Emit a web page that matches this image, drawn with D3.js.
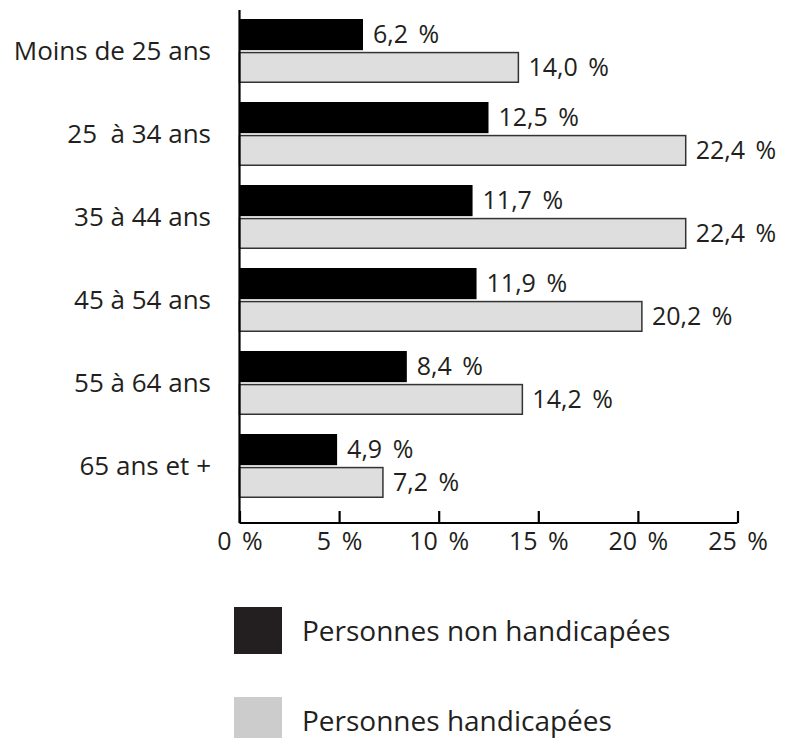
<!DOCTYPE html>
<html>
<head>
<meta charset="utf-8">
<script src="https://cdn.jsdelivr.net/npm/d3@7"></script>
<style>
  html, body { margin: 0; padding: 0; background: #fff; }
  svg { display: block; font-family: "Open Sans", sans-serif; }
</style>
</head>
<body>
<svg id="chart" width="785" height="738"></svg>
<script>
// Age groups and employment shares (%) for each population
const categories = ["Moins de 25 ans", "25  à 34 ans", "35 à 44 ans", "45 à 54 ans", "55 à 64 ans", "65 ans et +"];
const nonHandicapees = [6.2, 12.5, 11.7, 11.9, 8.4, 4.9];
const handicapees = [14.0, 22.4, 22.4, 20.2, 14.2, 7.2];
const seriesNames = ["Personnes non handicapées", "Personnes handicapées"];
const tickValues = [0, 5, 10, 15, 20, 25];

const fmt = v => v.toFixed(1).replace(".", ",") + " %";

const svg = d3.select("#chart");
const textColor = "#231f20";

const x = d3.scaleLinear().domain([0, 25]).range([239.5, 737.5]);
const y = d3.scaleBand().domain(categories).range([19, 498]).paddingInner(0.229).paddingOuter(0);
const sub = d3.scaleBand().domain(seriesNames).range([0, y.bandwidth()]).paddingInner(0.05);

const rows = categories.map((c, i) => ({ cat: c, vals: [nonHandicapees[i], handicapees[i]] }));

const g = svg.selectAll("g.row").data(rows).join("g")
  .attr("class", "row")
  .attr("transform", d => `translate(0,${y(d.cat)})`);

// Non-disabled: solid black bars
g.append("rect")
  .attr("x", x(0))
  .attr("y", sub(seriesNames[0]))
  .attr("width", d => x(d.vals[0]) - x(0))
  .attr("height", sub.bandwidth())
  .attr("fill", "#000");

// Disabled: light grey bars with dark outline
g.append("rect")
  .attr("x", x(0))
  .attr("y", sub(seriesNames[1]) + 0.75)
  .attr("width", d => x(d.vals[1]) - x(0))
  .attr("height", sub.bandwidth() - 1.5)
  .attr("fill", "#dedede")
  .attr("stroke", "#333")
  .attr("stroke-width", 1.5);

// Value labels
[0, 1].forEach(k => {
  g.append("text")
    .attr("x", d => x(d.vals[k]) + 10)
    .attr("y", sub(seriesNames[k]) + sub.bandwidth() / 2)
    .attr("dy", "0.35em")
    .attr("font-size", 25)
    .attr("word-spacing", 4)
    .attr("fill", textColor)
    .text(d => fmt(d.vals[k]));
});

// Category labels
svg.selectAll("text.cat").data(categories).join("text")
  .attr("class", "cat")
  .attr("x", 211)
  .attr("y", d => y(d) + y.bandwidth() / 2)
  .attr("dy", "0.35em")
  .attr("text-anchor", "end")
  .attr("font-size", 26)
  .attr("fill", textColor)
  .style("white-space", "pre")
  .text(d => d);

// Vertical axis line
svg.append("line")
  .attr("x1", x(0)).attr("x2", x(0))
  .attr("y1", 10).attr("y2", 523)
  .attr("stroke", "#000").attr("stroke-width", 2.2);

// Horizontal axis with upward ticks
const xAxis = d3.axisBottom(x).tickValues(tickValues).tickSizeInner(-12).tickSizeOuter(0)
  .tickFormat(d => d + " %");
const ax = svg.append("g").attr("transform", "translate(0,523)").call(xAxis);
ax.select(".domain").attr("stroke", "#000").attr("stroke-width", 2.2)
  .attr("d", `M${x(0)},0H${x(25)}`);
ax.selectAll(".tick line").attr("stroke", "#000").attr("stroke-width", 2.2);
ax.selectAll(".tick text")
  .attr("y", 27).attr("dy", 0)
  .attr("font-size", 25).attr("font-family", "Open Sans, sans-serif")
  .attr("word-spacing", 4)
  .attr("fill", textColor);

// Legend
const legend = [
  { name: seriesNames[0], color: "#231f20", y: 607 },
  { name: seriesNames[1], color: "#cccccc", y: 697 }
];
const lg = svg.selectAll("g.legend").data(legend).join("g").attr("class", "legend");
lg.append("rect")
  .attr("x", 234).attr("y", d => d.y)
  .attr("width", 48).attr("height", 47)
  .attr("fill", d => d.color);
lg.append("text")
  .attr("x", 302).attr("y", d => d.y + 24)
  .attr("dy", "0.35em")
  .attr("font-size", 28)
  .attr("fill", textColor)
  .text(d => d.name);
</script>
</body>
</html>
